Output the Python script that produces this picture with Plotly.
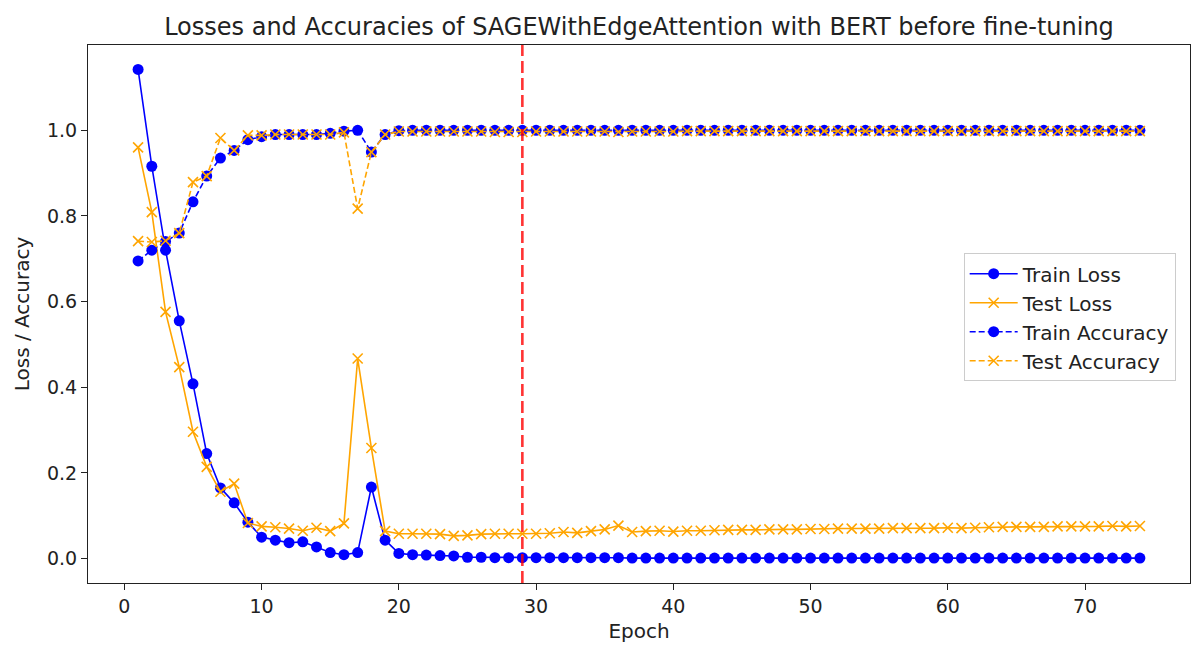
import plotly.graph_objects as go

epochs = list(range(1, 75))

train_loss = [1.142, 0.916, 0.720, 0.555, 0.408, 0.245, 0.165, 0.130, 0.085, 0.050,
              0.043, 0.037, 0.039, 0.027, 0.014, 0.009, 0.014, 0.167, 0.043, 0.012,
              0.009, 0.008, 0.007, 0.006, 0.003, 0.003, 0.002, 0.002, 0.002, 0.002,
              0.002, 0.002, 0.002, 0.002, 0.002, 0.002, 0.001, 0.001, 0.001, 0.001,
              0.001, 0.001, 0.001, 0.001, 0.001, 0.001, 0.001, 0.001, 0.001, 0.001,
              0.001, 0.001, 0.001, 0.001, 0.001, 0.001, 0.001, 0.001, 0.001, 0.001,
              0.001, 0.001, 0.001, 0.001, 0.001, 0.001, 0.001, 0.001, 0.001, 0.001,
              0.001, 0.001, 0.001, 0.001]

test_loss = [0.960, 0.809, 0.576, 0.447, 0.296, 0.214, 0.156, 0.175, 0.083, 0.075,
             0.073, 0.070, 0.065, 0.072, 0.064, 0.082, 0.467, 0.258, 0.064, 0.058,
             0.058, 0.058, 0.057, 0.053, 0.054, 0.057, 0.058, 0.058, 0.058, 0.058,
             0.059, 0.062, 0.060, 0.064, 0.068, 0.077, 0.062, 0.064, 0.065, 0.063,
             0.065, 0.065, 0.066, 0.067, 0.067, 0.067, 0.068, 0.068, 0.068, 0.069,
             0.069, 0.070, 0.070, 0.070, 0.070, 0.071, 0.071, 0.071, 0.071, 0.072,
             0.071, 0.072, 0.073, 0.074, 0.074, 0.074, 0.074, 0.075, 0.075, 0.075,
             0.075, 0.076, 0.075, 0.076]

train_acc = [0.695, 0.720, 0.740, 0.760, 0.833, 0.893, 0.935, 0.953, 0.978, 0.985,
             0.990, 0.990, 0.990, 0.990, 0.993, 0.998, 1.000, 0.949, 0.990, 0.999,
             1.000, 1.000, 1.000, 1.000, 1.000, 1.000, 1.000, 1.000, 1.000, 1.000,
             1.000, 1.000, 1.000, 1.000, 1.000, 1.000, 1.000, 1.000, 1.000, 1.000,
             1.000, 1.000, 1.000, 1.000, 1.000, 1.000, 1.000, 1.000, 1.000, 1.000,
             1.000, 1.000, 1.000, 1.000, 1.000, 1.000, 1.000, 1.000, 1.000, 1.000,
             1.000, 1.000, 1.000, 1.000, 1.000, 1.000, 1.000, 1.000, 1.000, 1.000,
             1.000, 1.000, 1.000, 1.000]

test_acc = [0.741, 0.739, 0.742, 0.760, 0.879, 0.893, 0.982, 0.953, 0.988, 0.988,
            0.990, 0.990, 0.990, 0.990, 0.990, 0.995, 0.817, 0.949, 0.990, 0.997,
            0.997, 0.997, 0.997, 0.997, 0.997, 0.997, 0.996, 0.996, 0.996, 0.997,
            0.997, 0.997, 0.997, 0.997, 0.997, 0.996, 0.997, 0.997, 0.997, 0.997,
            0.998, 0.998, 0.998, 0.998, 0.998, 0.998, 0.998, 0.998, 0.998, 0.998,
            0.998, 0.998, 0.998, 0.998, 0.998, 0.998, 0.998, 0.998, 0.998, 0.998,
            0.998, 0.998, 0.998, 0.998, 0.998, 0.998, 0.998, 0.998, 0.998, 0.998,
            0.998, 0.998, 0.998, 0.998]

best_epoch = 29

BLUE = "#0000ff"
ORANGE = "#ffa500"
FONT = "DejaVu Sans"

fig = go.Figure()

fig.add_trace(go.Scatter(
    x=epochs, y=train_loss, name="Train Loss", mode="lines+markers",
    line=dict(color=BLUE, width=1.6),
    marker=dict(symbol="circle", size=11, color=BLUE, line=dict(width=0))))
fig.add_trace(go.Scatter(
    x=epochs, y=test_loss, name="Test Loss", mode="lines+markers",
    line=dict(color=ORANGE, width=1.6),
    marker=dict(symbol="x-thin", size=10, color=ORANGE, line=dict(color=ORANGE, width=1.6))))
fig.add_trace(go.Scatter(
    x=epochs, y=train_acc, name="Train Accuracy", mode="lines+markers",
    line=dict(color=BLUE, width=1.6, dash="6px,3px"),
    marker=dict(symbol="circle", size=11, color=BLUE, line=dict(width=0))))
fig.add_trace(go.Scatter(
    x=epochs, y=test_acc, name="Test Accuracy", mode="lines+markers",
    line=dict(color=ORANGE, width=1.6, dash="6px,3px"),
    marker=dict(symbol="x-thin", size=10, color=ORANGE, line=dict(color=ORANGE, width=1.6))))

fig.add_shape(type="line", xref="x", yref="paper", x0=best_epoch, x1=best_epoch, y0=0, y1=1,
              line=dict(color="rgba(255,0,0,0.8)", width=2.6, dash="12px,5px"))

axis_common = dict(
    showline=True, linecolor="#222", linewidth=1, mirror=True,
    ticks="outside", ticklen=6, tickwidth=1, tickcolor="#222",
    showgrid=False, zeroline=False,
    tickfont=dict(family=FONT, size=19, color="#222"),
)

fig.update_layout(
    width=1193, height=648, autosize=False,
    margin=dict(l=88, r=3, t=45, b=65),
    paper_bgcolor="white", plot_bgcolor="white",
    font=dict(family=FONT, color="#222"),
    title=dict(text="Losses and Accuracies of SAGEWithEdgeAttention with BERT before fine-tuning",
               x=0.5, xref="paper", xanchor="center", y=1 - 27 / 648, yanchor="middle",
               font=dict(family=FONT, size=24, color="#222")),
    xaxis=dict(range=[-2.65, 77.65], tickvals=[0, 10, 20, 30, 40, 50, 60, 70],
               title=dict(text="Epoch", font=dict(family=FONT, size=20, color="#222"), standoff=8),
               **axis_common),
    yaxis=dict(range=[-0.0571, 1.1991], tickvals=[0, 0.2, 0.4, 0.6, 0.8, 1.0], tickformat=".1f",
               title=dict(text="Loss / Accuracy", font=dict(family=FONT, size=20, color="#222"), standoff=11),
               **axis_common),
    legend=dict(x=0.987, xanchor="right", y=0.494, yanchor="middle",
                bgcolor="rgba(255,255,255,0.8)", bordercolor="#cccccc", borderwidth=1,
                font=dict(family=FONT, size=20, color="#222"), itemwidth=48),
    showlegend=True,
)

fig.write_html("out.html")
